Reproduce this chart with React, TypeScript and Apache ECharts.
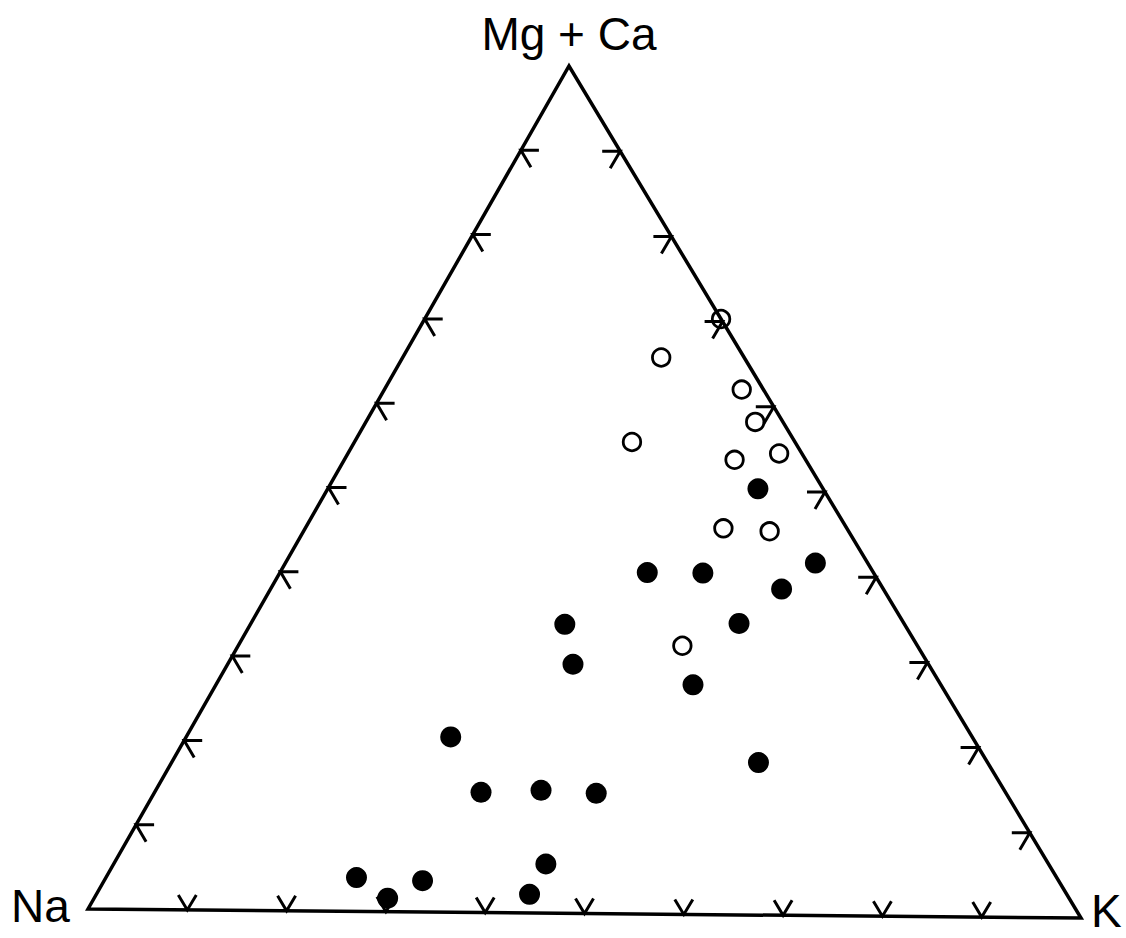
import React, { useEffect, useRef } from "react";
import * as echarts from "echarts";

// ---- data (percentages) ----
const cornerLabels = ["Mg + Ca", "Na", "K"];
const tickValues = [10, 20, 30, 40, 50, 60, 70, 80, 90];

// open circles
const openMgCa = [70.3, 65.7, 62.0, 58.2, 55.7, 53.7, 54.5, 45.6, 45.3, 31.7];
const openK = [29.7, 25.9, 35.8, 39.0, 27.8, 39.1, 43.2, 41.9, 46.7, 44.5];
const openNa = [0.0, 8.4, 2.2, 2.8, 16.5, 7.2, 2.3, 12.5, 8.0, 23.8];

// filled circles
const filledMgCa = [50.3, 40.3, 40.3, 41.6, 38.5, 34.1, 34.4, 29.4, 27.1, 20.7, 18.0, 14.2, 14.5, 14.2, 5.8, 4.0, 1.6, 3.7, 2.2];
const filledK = [43.1, 36.8, 42.4, 53.1, 51.2, 31.5, 48.9, 34.6, 47.8, 26.5, 58.8, 32.7, 38.6, 44.3, 43.3, 25.1, 29.4, 31.9, 43.4];
const filledNa = [6.6, 22.9, 17.3, 5.3, 10.3, 34.4, 16.7, 36.0, 25.1, 52.8, 23.2, 53.1, 46.9, 41.5, 50.9, 70.9, 69.0, 64.4, 54.4];

// ---- layout (corner positions in the plotting frame) ----
const W = 1126;
const H = 938;
const NA_C = [88, 909];
const K_C = [1081, 918];
const APEX_C = [569, 66];

function toXY(mg: number, k: number, na: number): number[] {
  const s = mg + k + na;
  return [
    (na * NA_C[0] + k * K_C[0] + mg * APEX_C[0]) / s,
    (na * NA_C[1] + k * K_C[1] + mg * APEX_C[1]) / s,
  ];
}

const FONT = "'Liberation Sans', Arial, Helvetica, sans-serif";

export default function App() {
  const ref = useRef<HTMLDivElement>(null);
  useEffect(() => {
    const chart = echarts.init(ref.current!, null, { renderer: "svg" });

    const openData = openMgCa.map((m, i) => toXY(m, openK[i], openNa[i]));
    const filledData = filledMgCa.map((m, i) => toXY(m, filledK[i], filledNa[i]));
    const tickData: number[][] = [];
    [0, 1, 2].forEach((e) => tickValues.forEach((v) => tickData.push([e, v])));

    // arm offsets for each edge's tick marks: left, right, bottom
    const arms = [
      [[18, 0], [10, 17]],
      [[-18, 0], [-10, 17]],
      [[-9, -15], [9, -15]],
    ];

    chart.setOption({
      animation: false,
      backgroundColor: "#ffffff",
      grid: { left: 0, right: 0, top: 0, bottom: 0 },
      xAxis: { type: "value", min: 0, max: W, show: false },
      yAxis: { type: "value", min: 0, max: H, inverse: true, show: false },
      graphic: [
        {
          type: "text",
          x: 569,
          y: 34,
          style: { text: cornerLabels[0], fill: "#000", font: `46px ${FONT}`, lineHeight: 40, textAlign: "center", textVerticalAlign: "middle" },
        },
        {
          type: "text",
          x: 11,
          y: 906,
          style: { text: cornerLabels[1], fill: "#000", font: `46px ${FONT}`, lineHeight: 40, textAlign: "left", textVerticalAlign: "middle" },
        },
        {
          type: "text",
          x: 1091,
          y: 911,
          style: { text: cornerLabels[2], fill: "#000", font: `46px ${FONT}`, lineHeight: 36, textAlign: "left", textVerticalAlign: "middle" },
        },
      ],
      series: [
        {
          type: "custom",
          z: 1,
          data: [[0, 0]],
          renderItem: (_p: any, api: any) => {
            const pts = [toXY(0, 0, 100), toXY(0, 100, 0), toXY(100, 0, 0)].map((c) => api.coord(c));
            return {
              type: "polygon",
              shape: { points: pts },
              style: { fill: "none", stroke: "#000", lineWidth: 3.5, lineJoin: "miter" },
            };
          },
        },
        {
          type: "custom",
          z: 1,
          data: tickData,
          renderItem: (_p: any, api: any) => {
            const e = api.value(0);
            const v = api.value(1);
            let t: number[];
            if (e === 0) t = toXY(v, 0, 100 - v);
            else if (e === 1) t = toXY(v, 100 - v, 0);
            else t = toXY(0, v, 100 - v);
            const c = api.coord(t);
            const a = arms[e];
            return {
              type: "polyline",
              shape: {
                points: [
                  [c[0] + a[0][0], c[1] + a[0][1]],
                  c,
                  [c[0] + a[1][0], c[1] + a[1][1]],
                ],
              },
              style: { fill: "none", stroke: "#000", lineWidth: 3 },
            };
          },
        },
        {
          type: "scatter",
          z: 3,
          symbol: "circle",
          symbolSize: 17.5,
          data: openData,
          itemStyle: { color: "rgba(0,0,0,0)", borderColor: "#000", borderWidth: 2.8, opacity: 1 },
        },
        {
          type: "scatter",
          z: 3,
          symbol: "circle",
          symbolSize: 21,
          data: filledData,
          itemStyle: { color: "#000", opacity: 1 },
        },
      ],
    });
    return () => chart.dispose();
  }, []);
  return (
    <div
      ref={ref}
      style={{ position: "absolute", left: 0, top: 0, width: W, height: H, background: "#fff" }}
    />
  );
}
